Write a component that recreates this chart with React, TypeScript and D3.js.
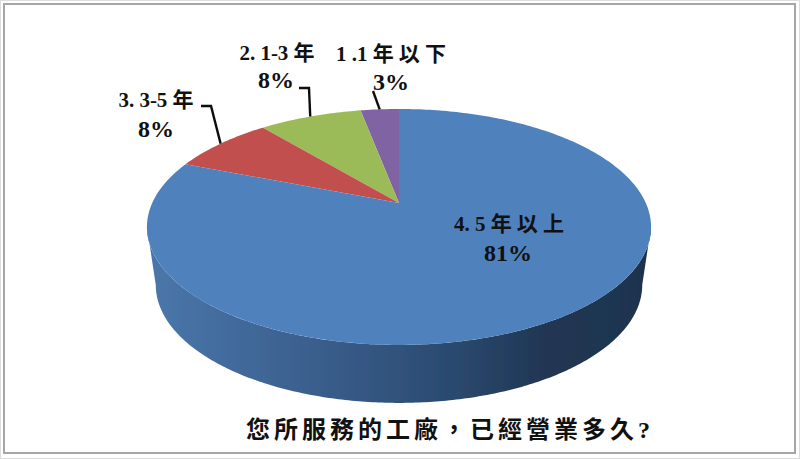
import React from "react";
import * as d3 from "d3";

const categories = ["1.1年以下", "2.1-3年", "3.3-5年", "4.5年以上"];
const displayLabels = ["1 .1 年 以 下", "2. 1-3 年", "3. 3-5 年", "4. 5 年 以 上"];
const values = [3, 8, 8, 81];
const colors = ["#8064a2", "#9bbb59", "#c0504d", "#4f81bd"];
const title = "您所服務的工廠，已經營業多久?";

const W = 800, H = 459;
const cx = 399, apexY = 203;
const k = 0.203, a = 113.1, b = 246.8;
const depth = 58, bottomScale = 0.965;

// perspective projection of the pie's unit circle; angle 0 = far edge, positive = clockwise
const project = (angle: number, r = 1): [number, number] => {
  const u = r * Math.sin(angle), v = r * Math.cos(angle);
  const d = 1 + k * v;
  return [cx + (b * u) / d, apexY - (a * v) / d];
};

const pieGen = d3.pie<number>().sort(null).startAngle(0).endAngle(-2 * Math.PI);
const arcs = pieGen(values);

const line = d3.line();

const slicePath = (s: number, e: number) => {
  const n = Math.max(4, Math.ceil(Math.abs(e - s) * 60));
  const scale = d3.scaleLinear().domain([0, n]).range([s, e]);
  const pts: [number, number][] = [[cx, apexY]];
  for (let i = 0; i <= n; i++) pts.push(project(scale(i)));
  return line(pts) + "Z";
};

const wallPath = () => {
  const t = Math.acos(-k);
  const scale = d3.scaleLinear().domain([0, 240]).range([t, 2 * Math.PI - t]);
  const top: [number, number][] = d3.range(241).map((i) => project(scale(i)));
  const bottom: [number, number][] = top
    .map(([x, y]): [number, number] => [cx + (x - cx) * bottomScale, y + depth])
    .reverse();
  return line([...top, ...bottom]) + "Z";
};

type Lab = { i: number; elbow: [number, number][] };
const leaders: Lab[] = [
  { i: 0, elbow: [[373, 91]] },
  { i: 1, elbow: [[299, 88], [309, 88]] },
  { i: 2, elbow: [[201, 106], [211, 106]] },
];

const font = "'Liberation Serif','Noto Sans CJK TC',serif";

export default function App() {
  const mid = (d: d3.PieArcDatum<number>) => (d.startAngle + d.endAngle) / 2;
  return (
    <svg width={W} height={H} viewBox={`0 0 ${W} ${H}`} style={{ position: "absolute", left: 0, top: 0, background: "#fff" }}>
      <defs>
        <linearGradient id="wall" x1="0" x2="1" y1="0" y2="0">
          <stop offset="0" stopColor="#4a77ab" />
          <stop offset="0.3" stopColor="#3c6190" />
          <stop offset="0.6" stopColor="#2b4a70" />
          <stop offset="0.8" stopColor="#203552" />
          <stop offset="1" stopColor="#1f3350" />
        </linearGradient>
        <filter id="soft"><feGaussianBlur stdDeviation="0.5" /></filter>
      </defs>
      <rect x={0.5} y={0.5} width={W - 1} height={H - 1} fill="#fff" stroke="#ddd" />
      <rect x={4} y={4} width={791} height={449} fill="#fff" stroke="#a6a6a6" strokeWidth={2} />
      <g filter="url(#soft)">
        <path d={wallPath()} fill="url(#wall)" />
        {arcs.map((d, i) => (
          <path key={categories[i]} d={slicePath(d.startAngle, d.endAngle)} fill={colors[i]} />
        ))}
        {leaders.map((l) => {
          const end = project(mid(arcs[l.i]));
          const pts: [number, number][] = [...l.elbow, end];
          return <path key={l.i} d={line(pts) ?? ""} fill="none" stroke="#111" strokeWidth={2.4} />;
        })}
      </g>
      <g fontFamily={font} fontWeight={700} fill="#111" textAnchor="middle">
        <g fontSize={21}>
          <text x={391} y={61}>{displayLabels[0]}</text>
          <text x={277} y={60}>{displayLabels[1]}</text>
          <text x={156} y={107}>{displayLabels[2]}</text>
          <text x={509} y={231}>{displayLabels[3]}</text>
        </g>
        <g fontSize={24}>
          <text x={391} y={90}>{values[0]}%</text>
          <text x={276} y={88}>{values[1]}%</text>
          <text x={156} y={137}>{values[2]}%</text>
          <text x={508} y={261}>{values[3]}%</text>
        </g>
      </g>
      <text x={450} y={438} textAnchor="middle" fontFamily={font} fontWeight={700} fontSize={24} letterSpacing={4} fill="#111">{title}</text>
    </svg>
  );
}
